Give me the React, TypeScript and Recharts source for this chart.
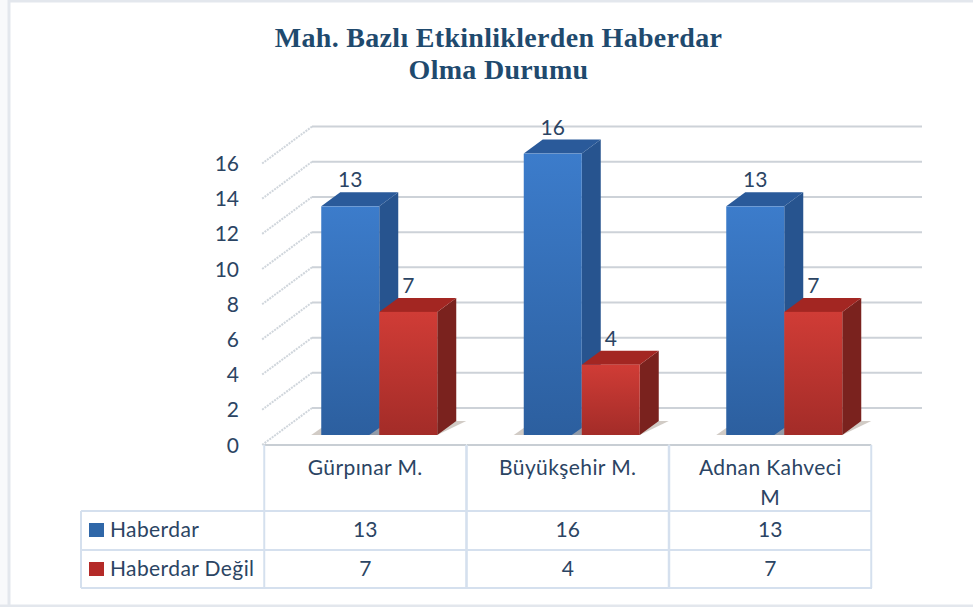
import React from 'react';
import { BarChart, Bar, XAxis, YAxis, ReferenceLine } from 'recharts';

const categories = ['Gürpınar M.', 'Büyükşehir M.', 'Adnan Kahveci M'];
const haberdar = [13, 16, 13];
const haberdarDegil = [7, 4, 7];
const yTicks = [0, 2, 4, 6, 8, 10, 12, 14, 16];
const titleLines = ['Mah. Bazlı Etkinliklerden Haberdar', 'Olma Durumu'];

const chartData = categories.map((name, i) => ({
  name,
  haberdar: haberdar[i],
  haberdarDegil: haberdarDegil[i],
}));

const textColor = '#2b4463';
const tableLine = '#d5e0ee';
const frameLine = '#e3e7ed';
const uiFont = 'Lato, "Open Sans", sans-serif';

// how far the floor/wall sit from the bar plane, in px
const barDepth = { dx: 19, dy: -14 };
const wall = { dx: 34, dy: -27, right: 922 };
const front = { dx: -14, dy: 10 };

function Bar3D(props: any) {
  const { x, y, width, height, gradient, side, top, value } = props;
  const { dx, dy } = barDepth;
  const bottom = y + height;
  return (
    <g>
      <polygon
        points={`${x - 10},${bottom} ${x},${bottom - 7} ${x + width + dx},${bottom + dy} ${x + width + dx + 10},${bottom + dy} ${x + width},${bottom}`}
        fill="#bdb5ac"
        opacity={0.7}
      />
      <polygon
        points={`${x + width},${y} ${x + width + dx},${y + dy} ${x + width + dx},${bottom + dy} ${x + width},${bottom}`}
        fill={side}
      />
      <polygon
        points={`${x},${y} ${x + dx},${y + dy} ${x + width + dx},${y + dy} ${x + width},${y}`}
        fill={top}
      />
      <rect x={x} y={y} width={width} height={height} fill={`url(#${gradient})`} />
      <text
        x={x + width / 2}
        y={y - 19}
        textAnchor="middle"
        fontFamily={uiFont}
        fontSize={21}
        fill={textColor}
      >
        {value}
      </text>
    </g>
  );
}

function WallLine(props: any) {
  const { x1, y1 } = props;
  const leftX = x1 + wall.dx;
  const wallY = y1 + wall.dy;
  return (
    <g>
      <line x1={leftX} y1={wallY} x2={wall.right} y2={wallY} stroke="#cdd2d8" strokeWidth={2} />
      <line
        x1={leftX}
        y1={wallY}
        x2={x1 + front.dx - 2}
        y2={y1 + front.dy}
        stroke="#d0d6dc"
        strokeWidth={2}
        strokeDasharray="2 1"
      />
    </g>
  );
}

function YTick(props: any) {
  const { y, payload } = props;
  return (
    <text x={239} y={y + 17.5} textAnchor="end" fontFamily={uiFont} fontSize={21} fill={textColor}>
      {payload.value}
    </text>
  );
}

function TableColumn(props: any) {
  const { x, payload, index } = props;
  const cx = x + front.dx;
  const left = cx - 101;
  const right = cx + 101;
  const words = payload.value.split(' ');
  const lines = words.length > 2 ? [words.slice(0, 2).join(' '), words.slice(2).join(' ')] : [payload.value];
  return (
    <g>
      <line x1={left} y1={445} x2={right} y2={445} stroke="#c8ced4" strokeWidth={2} />
      <line x1={left} y1={445} x2={left} y2={588} stroke={tableLine} strokeWidth={2} />
      <line x1={right} y1={445} x2={right} y2={588} stroke={tableLine} strokeWidth={2} />
      {lines.map((line: string, i: number) => (
        <text
          key={line}
          x={cx}
          y={475 + i * 30}
          textAnchor="middle"
          fontFamily={uiFont}
          fontSize={21}
          letterSpacing={0.4}
          fill={textColor}
        >
          {line}
        </text>
      ))}
      <text x={cx} y={537} textAnchor="middle" fontFamily={uiFont} fontSize={21} fill={textColor}>
        {haberdar[index]}
      </text>
      <text x={cx} y={576} textAnchor="middle" fontFamily={uiFont} fontSize={21} fill={textColor}>
        {haberdarDegil[index]}
      </text>
    </g>
  );
}

export default function App() {
  return (
    <div style={{ position: 'absolute', left: 0, top: 0, width: 973, height: 607, background: '#fff' }}>
      <svg width={973} height={607} style={{ position: 'absolute', left: 0, top: 0 }}>
        <rect x={0} y={0} width={9} height={607} fill="#f8f9fb" />
        <line x1={8} y1={1} x2={973} y2={1} stroke={frameLine} strokeWidth={3} />
        <line x1={9} y1={0} x2={9} y2={605} stroke={frameLine} strokeWidth={3} />
        <line x1={0} y1={606} x2={973} y2={606} stroke={frameLine} strokeWidth={3} />
        {titleLines.map((line, i) => (
          <text
            key={line}
            x={498.5}
            y={47 + i * 32}
            textAnchor="middle"
            fontFamily='"Liberation Serif", serif'
            fontWeight="bold"
            fontSize={28}
            letterSpacing={0.3}
            fill="#1f4a6e"
          >
            {line}
          </text>
        ))}
        {/* row headers of the data table */}
        <line x1={81} y1={511} x2={872} y2={511} stroke={tableLine} strokeWidth={2} />
        <line x1={81} y1={550} x2={872} y2={550} stroke={tableLine} strokeWidth={2} />
        <line x1={81} y1={588} x2={872} y2={588} stroke={tableLine} strokeWidth={2} />
        <line x1={81} y1={511} x2={81} y2={588} stroke={tableLine} strokeWidth={2} />
        <rect x={89} y={523} width={15} height={14} fill="#2f67a8" />
        <rect x={89} y={562} width={15} height={14} fill="#b42a28" />
        <text x={110} y={537} fontFamily={uiFont} fontSize={21} fill={textColor} letterSpacing={0.4}>
          Haberdar
        </text>
        <text x={110} y={576} fontFamily={uiFont} fontSize={21} fill={textColor} letterSpacing={0.4}>
          Haberdar Değil
        </text>
      </svg>
      <div style={{ position: 'absolute', left: 0, top: 0 }}>
        <BarChart
          width={973}
          height={607}
          data={chartData}
          margin={{ left: 218, right: 87.5, top: 153.6, bottom: 142 }}
          barCategoryGap={43.25}
          barGap={0}
        >
          <defs>
            <linearGradient id="blueFace" x1="0" y1="0" x2="0" y2="1">
              <stop offset="0%" stopColor="#3c7ccb" />
              <stop offset="100%" stopColor="#2c5f9f" />
            </linearGradient>
            <linearGradient id="redFace" x1="0" y1="0" x2="0" y2="1">
              <stop offset="0%" stopColor="#d03c36" />
              <stop offset="100%" stopColor="#a32c28" />
            </linearGradient>
          </defs>
          <XAxis
            dataKey="name"
            axisLine={false}
            tickLine={false}
            height={30}
            interval={0}
            tick={(p: any) => <TableColumn {...p} />}
          />
          <YAxis
            domain={[0, 16]}
            ticks={yTicks}
            width={60}
            axisLine={false}
            tickLine={false}
            tick={(p: any) => <YTick {...p} />}
          />
          {yTicks.map((t) => (
            <ReferenceLine key={t} y={t} zIndex={-100} shape={(p: any) => <WallLine {...p} />} />
          ))}
          <Bar
            dataKey="haberdar"
            isAnimationActive={false}
            shape={(p: any) => <Bar3D {...p} gradient="blueFace" side="#27548f" top="#2a5a9a" />}
          />
          <Bar
            dataKey="haberdarDegil"
            isAnimationActive={false}
            shape={(p: any) => <Bar3D {...p} gradient="redFace" side="#7a221e" top="#a32622" />}
          />
        </BarChart>
      </div>
    </div>
  );
}
